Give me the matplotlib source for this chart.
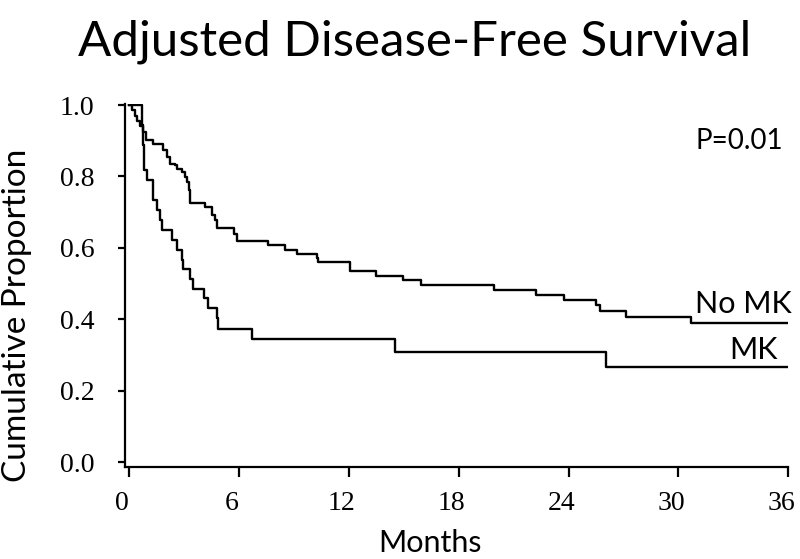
import matplotlib
matplotlib.use("Agg")
import matplotlib.pyplot as plt
from matplotlib.transforms import ScaledTranslation

title = "Adjusted Disease-Free Survival"
x_label = "Months"
y_label = "Cumulative Proportion"
x_ticks = [0, 6, 12, 18, 24, 30, 36]
x_tick_labels = ["0", "6", "12", "18", "24", "30", "36"]
y_ticks = [0.0, 0.2, 0.4, 0.6, 0.8, 1.0]
y_tick_labels = ["0.0", "0.2", "0.4", "0.6", "0.8", "1.0"]
p_text = "P=0.01"

nomk_label = "No MK"
nomk_months = [0, 0.15, 0.30, 0.45, 0.60, 0.78, 0.90, 1.32, 1.87, 2.10, 2.24, 2.51,
               2.60, 2.90, 3.08, 3.18, 3.27, 3.33, 4.15, 4.55, 4.68, 4.80, 5.75,
               5.90, 7.60, 8.51, 9.15, 10.24, 10.33, 12.06, 13.50, 14.96, 15.97,
               19.93, 22.24, 23.75, 25.48, 25.70, 27.15, 30.70, 36.0]
nomk_surv = [1.0, 0.985, 0.970, 0.955, 0.940, 0.925, 0.902, 0.891, 0.873, 0.854,
             0.835, 0.831, 0.821, 0.812, 0.798, 0.784, 0.761, 0.725, 0.714, 0.691,
             0.677, 0.656, 0.640, 0.619, 0.607, 0.595, 0.584, 0.572, 0.560, 0.535,
             0.522, 0.509, 0.495, 0.481, 0.467, 0.454, 0.439, 0.423, 0.406, 0.390,
             0.390]

mk_label = "MK"
mk_months = [0, 0.72, 0.76, 0.80, 0.96, 1.30, 1.33, 1.51, 1.69, 1.78, 2.33, 2.60,
             2.87, 2.96, 3.33, 3.51, 4.10, 4.32, 4.78, 4.87, 6.69, 14.55, 26.06, 36.0]
mk_surv = [1.0, 0.944, 0.889, 0.817, 0.789, 0.761, 0.733, 0.705, 0.677, 0.649,
           0.621, 0.593, 0.565, 0.542, 0.514, 0.486, 0.459, 0.431, 0.403, 0.374,
           0.346, 0.309, 0.267, 0.267]

sans = ["Lato", "DejaVu Sans"]
serif = ["Liberation Serif", "DejaVu Serif"]

fig = plt.figure(figsize=(8, 5.59), dpi=100)
ax = fig.add_axes([125 / 800, 92 / 559, 663.3 / 800, 363 / 559])

ax.step(nomk_months, nomk_surv, where="post", color="black", lw=1.7)
ax.step(mk_months, mk_surv, where="post", color="black", lw=1.7)

ax.set_xlim(-0.22, 36.0)
ax.set_ylim(-0.014, 1.003)
for s in ["top", "right"]:
    ax.spines[s].set_visible(False)
for s in ["left", "bottom"]:
    ax.spines[s].set_linewidth(1.6)

ax.set_xticks(x_ticks)
ax.set_xticklabels(x_tick_labels, fontfamily=serif, fontsize=20)
ax.set_yticks(y_ticks)
ax.set_yticklabels(y_tick_labels, fontfamily=serif, fontsize=20)
ax.tick_params(axis="x", direction="out", length=7.5, width=1.6, pad=10)
ax.tick_params(axis="y", direction="out", length=5, width=1.6, pad=17)

shift = ScaledTranslation(-7 / 100, 0, fig.dpi_scale_trans)
for t in ax.xaxis.get_major_ticks():
    t.label1.set_transform(t.label1.get_transform() + shift)

ax.text(36.2, 0.417, nomk_label, ha="right", va="baseline", fontsize=22, fontfamily=sans)
ax.text(35.4, 0.288, mk_label, ha="right", va="baseline", fontsize=22, fontfamily=sans)
ax.text(35.7, 0.878, p_text, ha="right", va="baseline", fontsize=20, fontfamily=sans)

fig.text(415 / 800, (559 - 55) / 559, title, ha="center", va="baseline",
         fontsize=35.5, fontfamily=sans)
fig.text(17 / 800, (559 - 315) / 559, y_label, ha="center", va="center",
         rotation=90, fontsize=24, fontfamily=sans)
fig.text(430 / 800, (559 - 552) / 559, x_label, ha="center", va="baseline",
         fontsize=22, fontfamily=sans)

fig.savefig("out.png", dpi=100)
